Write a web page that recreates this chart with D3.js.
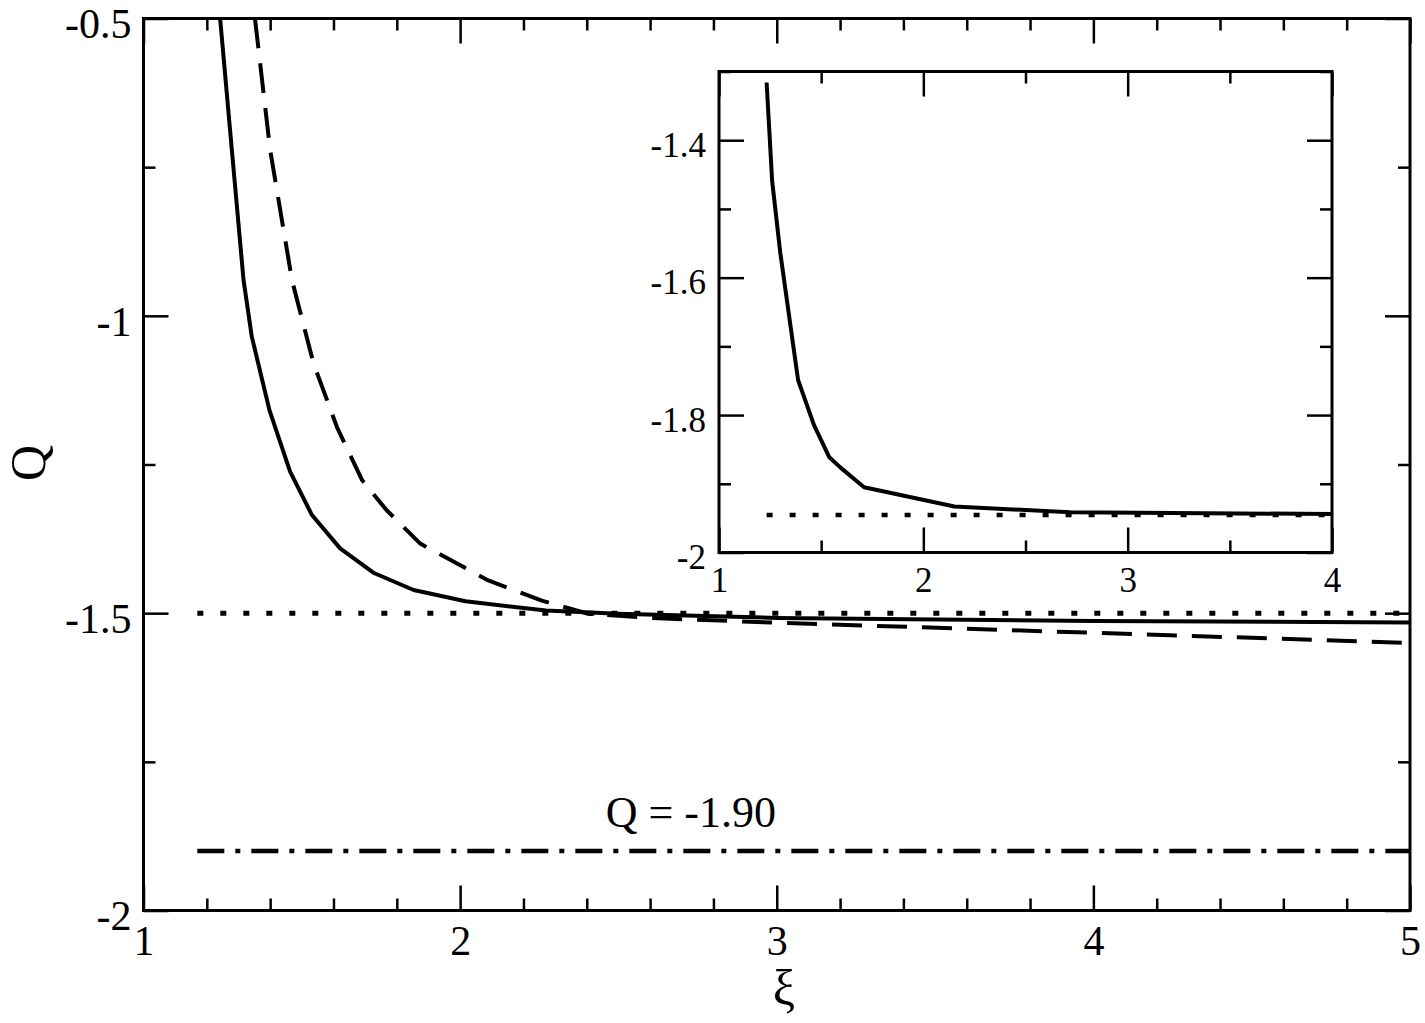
<!DOCTYPE html>
<html>
<head>
<meta charset="utf-8">
<script src="https://cdn.jsdelivr.net/npm/d3@7"></script>
<style>
  body { margin: 0; background: #fff; }
  svg { display: block; font-family: "Liberation Serif", "Times New Roman", serif; }
  .domain { display: none; }
</style>
</head>
<body>
<svg id="chart" width="1425" height="1023"></svg>
<script>
// main panel data
var solidXi = [1.242, 1.279, 1.316, 1.342, 1.398, 1.463, 1.532, 1.621, 1.726, 1.853, 2.017, 2.271, 2.5, 3.0, 4.0, 5.0]
var solidQ = [-0.5, -0.721, -0.940, -1.035, -1.159, -1.262, -1.335, -1.391, -1.432, -1.461, -1.480, -1.4956, -1.501, -1.508, -1.513, -1.5155]

var dashedXi = [1.352, 1.400, 1.469, 1.537, 1.611, 1.690, 1.768, 1.874, 2.089, 2.258, 2.404, 2.6, 3.0, 4.0, 5.0]
var dashedQ = [-0.5, -0.721, -0.940, -1.080, -1.187, -1.276, -1.327, -1.383, -1.445, -1.479, -1.501, -1.508, -1.516, -1.533, -1.550]

var dottedXi = [1.17, 5.0]
var dottedQ = [-1.5, -1.5]
var dashDotXi = [1.17, 5.0]
var dashDotQ = [-1.90, -1.90]
var noteText = "Q = -1.90"
var notePos = [2.46, -1.86]

var mainXTicks = [1, 2, 3, 4, 5]
var mainYTicks = [-2, -1.5, -1, -0.5]

// inset data
var insetXi = [1.233, 1.26, 1.30, 1.387, 1.464, 1.54, 1.595, 1.71, 2.152, 2.72, 4.0]
var insetQ = [-1.316, -1.459, -1.564, -1.749, -1.814, -1.8615, -1.8765, -1.905, -1.933, -1.9415, -1.944]
var insetDotXi = [1.233, 4.0]
var insetDotQ = [-1.9455, -1.9455]

var insetXTicks = [1, 2, 3, 4]
var insetYTicks = [-2, -1.8, -1.6, -1.4]

var svg = d3.select("#chart")

function zip(xs, ys) { return xs.map(function (x, i) { return [x, ys[i]] }) }

function drawPanel(g, box, xDom, yDom, opts) {
    var x = d3.scaleLinear().domain(xDom).range([box.left, box.right])
    var y = d3.scaleLinear().domain(yDom).range([box.bottom, box.top])

    g.append("rect")
        .attr("x", box.left).attr("y", box.top)
        .attr("width", box.right - box.left).attr("height", box.bottom - box.top)
        .attr("fill", "#fff").attr("stroke", "none")

    var clipId = "clip-" + opts.name
    g.append("clipPath").attr("id", clipId).append("rect")
        .attr("x", box.left).attr("y", box.top)
        .attr("width", box.right - box.left).attr("height", box.bottom - box.top)

    var inner = g.append("g").attr("clip-path", "url(#" + clipId + ")")
    var line = d3.line().x(function (d) { return x(d[0]) }).y(function (d) { return y(d[1]) })

    opts.series.forEach(function (s) {
        inner.append("path")
            .datum(s.data)
            .attr("d", line)
            .attr("fill", "none")
            .attr("stroke", "#000")
            .attr("stroke-width", s.width)
            .attr("stroke-dasharray", s.dash || null)
            .attr("stroke-linejoin", "round")
    })

    var fmt = function (d) { return String(d) }
    var minorX = d3.range(xDom[0], xDom[1] + 1e-9, opts.xMinor).filter(function (v) {
        return !opts.xTicks.some(function (t) { return Math.abs(t - v) < 1e-6 })
    })
    var minorY = d3.range(yDom[0], yDom[1] + 1e-9, opts.yMinor).filter(function (v) {
        return !opts.yTicks.some(function (t) { return Math.abs(t - v) < 1e-6 })
    })

    var styleTicks = function (sel, fs) {
        sel.selectAll("line").attr("stroke", "#000").attr("stroke-width", 2.5)
        sel.selectAll("text").attr("fill", "#000").attr("font-size", fs)
        sel.attr("font-family", null)
    }

    // bottom
    g.append("g").attr("transform", "translate(0," + box.bottom + ")")
        .call(d3.axisBottom(x).tickValues(opts.xTicks).tickSizeInner(-25).tickSizeOuter(0)
            .tickPadding(opts.xPad).tickFormat(fmt))
        .call(styleTicks, opts.fs)
    g.append("g").attr("transform", "translate(0," + box.bottom + ")")
        .call(d3.axisBottom(x).tickValues(minorX).tickSizeInner(-12).tickSizeOuter(0).tickFormat(""))
        .call(styleTicks, opts.fs)
    // top
    g.append("g").attr("transform", "translate(0," + box.top + ")")
        .call(d3.axisTop(x).tickValues(opts.xTicks).tickSizeInner(-25).tickSizeOuter(0).tickFormat(""))
        .call(styleTicks, opts.fs)
    g.append("g").attr("transform", "translate(0," + box.top + ")")
        .call(d3.axisTop(x).tickValues(minorX).tickSizeInner(-12).tickSizeOuter(0).tickFormat(""))
        .call(styleTicks, opts.fs)
    // left
    g.append("g").attr("transform", "translate(" + box.left + ",0)")
        .call(d3.axisLeft(y).tickValues(opts.yTicks).tickSizeInner(-25).tickSizeOuter(0)
            .tickPadding(opts.yPad).tickFormat(fmt))
        .call(styleTicks, opts.fs)
        .selectAll("text").attr("dy", "0.46em")
    g.append("g").attr("transform", "translate(" + box.left + ",0)")
        .call(d3.axisLeft(y).tickValues(minorY).tickSizeInner(-12).tickSizeOuter(0).tickFormat(""))
        .call(styleTicks, opts.fs)
    // right
    g.append("g").attr("transform", "translate(" + box.right + ",0)")
        .call(d3.axisRight(y).tickValues(opts.yTicks).tickSizeInner(-25).tickSizeOuter(0).tickFormat(""))
        .call(styleTicks, opts.fs)
    g.append("g").attr("transform", "translate(" + box.right + ",0)")
        .call(d3.axisRight(y).tickValues(minorY).tickSizeInner(-12).tickSizeOuter(0).tickFormat(""))
        .call(styleTicks, opts.fs)

    g.append("rect")
        .attr("x", box.left).attr("y", box.top)
        .attr("width", box.right - box.left).attr("height", box.bottom - box.top)
        .attr("fill", "none").attr("stroke", "#000").attr("stroke-width", 3)

    return { x: x, y: y }
}

// main panel
var mainG = svg.append("g")
var main = drawPanel(mainG, { left: 143.5, right: 1410, top: 18.5, bottom: 910.5 }, [1, 5], [-2, -0.5], {
    name: "main",
    xTicks: mainXTicks, yTicks: mainYTicks, xMinor: 0.2, yMinor: 0.25,
    fs: 42, xPad: 15, yPad: 12,
    series: [
        { data: zip(dottedXi, dottedQ), width: 5, dash: "6,17" },
        { data: zip(dashDotXi, dashDotQ), width: 4.5, dash: "27,11,5,11" },
        { data: zip(dashedXi, dashedQ), width: 4, dash: "30,15" },
        { data: zip(solidXi, solidQ), width: 4 }
    ]
})

mainG.append("text")
    .attr("x", main.x(notePos[0])).attr("y", main.y(notePos[1]))
    .attr("font-size", 44).text(noteText)

// axis titles
svg.append("text")
    .attr("transform", "translate(45,463) rotate(-90)")
    .attr("text-anchor", "middle")
    .attr("font-size", 50)
    .text("Q")
svg.append("text")
    .attr("x", 784).attr("y", 1005)
    .attr("text-anchor", "middle")
    .attr("font-size", 50)
    .text("ξ")

// inset panel
var insetG = svg.append("g")
drawPanel(insetG, { left: 719, right: 1332, top: 71.5, bottom: 552.5 }, [1, 4], [-2, -1.3], {
    name: "inset",
    xTicks: insetXTicks, yTicks: insetYTicks, xMinor: 0.5, yMinor: 0.1,
    fs: 35, xPad: 15, yPad: 13,
    series: [
        { data: zip(insetDotXi, insetDotQ), width: 4.5, dash: "6,17" },
        { data: zip(insetXi, insetQ), width: 4 }
    ]
})
</script>
</body>
</html>
